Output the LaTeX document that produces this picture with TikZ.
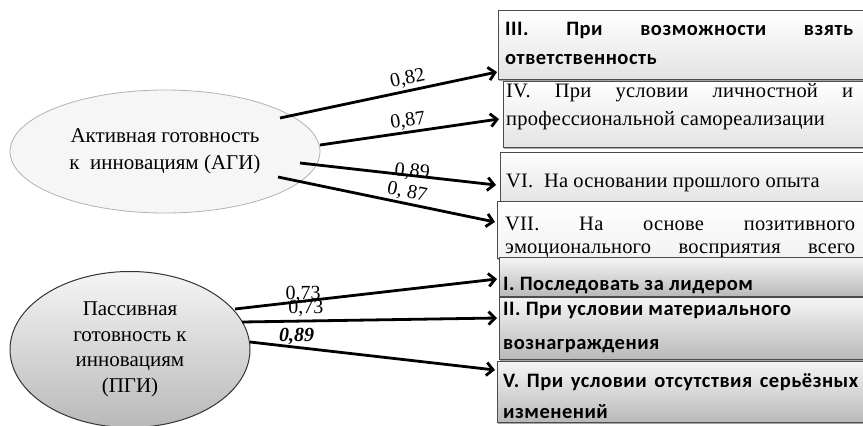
\documentclass[tikz,border=0pt]{standalone}
\usepackage{fontspec}
\setmainfont{Liberation Serif}
\newfontfamily\boxserif[LetterSpace=1]{Liberation Serif}
\newfontfamily\boxsans[LetterSpace=2.5]{Carlito}
\usetikzlibrary{arrows.meta,shapes.geometric,shadows}
\tikzset{
  conn/.style={line width=2.8pt,-{Straight Barb[length=6.5pt,width=13pt]}},
  lbl/.style={inner sep=0pt,font=\fontsize{20}{20}\selectfont},
  boxbase/.style={draw=black!70,line width=1pt,anchor=north west,inner sep=0pt,
    drop shadow={shadow xshift=0pt,shadow yshift=-1.6pt,opacity=.7}},
  lightbox/.style={boxbase,top color=white,bottom color=gray!22},
  darkbox/.style={boxbase,top color=gray!8,bottom color=gray!55},
  sline/.style={anchor=base west,inner sep=0pt,font=\boxserif\fontsize{20.5}{20.5}\selectfont},
  bline/.style={anchor=base west,inner sep=0pt,font=\boxsans\bfseries\fontsize{20.5}{20.5}\selectfont},
}
\begin{document}
\begin{tikzpicture}[x=1pt,y=-1pt]
\useasboundingbox (0,0) rectangle (863,426);
\clip (0,0) rectangle (863,426);
\fill[white] (0,0) rectangle (863,426);

% ellipses
\node[ellipse,draw=gray!60,line width=0.8pt,fill=gray!7,minimum width=310pt,minimum height=123pt,
  inner sep=0pt,align=center,font=\fontsize{21}{27}\selectfont] (agi) at (165,151.5)
  {Активная готовность\\к\ \ инновациям (АГИ)};
\node[ellipse,draw=black!80,line width=1pt,top color=gray!8,bottom color=gray!55,minimum width=240pt,
  minimum height=156pt,inner sep=0pt,align=center,font=\fontsize{21}{25.5}\selectfont] (pgi) at (130,349.5)
  {Пассивная\\готовность к\\инновациям\\(ПГИ)};

% boxes
\node[lightbox,minimum width=382pt,minimum height=69pt] (b3) at (498,10) {};
\node[bline] (t3a) at (505,35) {\makebox[348pt][s]{III.\ При возможности взять}};
\node[bline] (t3b) at (505,64) {ответственность};

\node[lightbox,minimum width=377pt,minimum height=66pt] (b4) at (503,81) {};
\node[sline] (t4a) at (506,97) {\makebox[347pt][s]{IV.\ При условии личностной и}};
\node[sline] (t4b) at (506,125) {профессиональной самореализации};

\node[lightbox,minimum width=380pt,minimum height=49pt] (b6) at (500,152) {};
\node[sline] (t6) at (506,187) {VI.\ \ На основании прошлого опыта};

\node[lightbox,bottom color=gray!10,minimum width=383pt,minimum height=57pt] (b7) at (497,201) {};
\node[sline] (t7a) at (505,230) {\makebox[350pt][s]{VII.\ На основе позитивного}};
\node[sline] (t7b) at (505,253) {\makebox[350pt][s]{эмоционального восприятия всего}};

\node[darkbox,minimum width=381pt,minimum height=39pt] (b1) at (499,257) {};
\node[bline] (t1) at (503,290) {I. Последовать за лидером};

\node[darkbox,minimum width=381pt,minimum height=62pt] (b2) at (499,297) {};
\node[bline] (t2a) at (503,315) {II. При условии материального};
\node[bline] (t2b) at (503,349) {вознаграждения};

\node[darkbox,minimum width=383pt,minimum height=61pt] (b5) at (497,361) {};
\node[bline] (t5a) at (503,387) {\makebox[355pt][s]{V. При условии отсутствия серьёзных}};
\node[bline] (t5b) at (503,418) {изменений};

% connectors
\coordinate (a1s) at (280,118); \coordinate (a1e) at (497,72);
\coordinate (a2s) at (320,145); \coordinate (a2e) at (499,119);
\coordinate (a3s) at (300,163); \coordinate (a3e) at (496,185);
\coordinate (a4s) at (278,177); \coordinate (a4e) at (495,222);
\coordinate (p1s) at (235,309); \coordinate (p1e) at (497,279);
\coordinate (p2s) at (242,322); \coordinate (p2e) at (497,318);
\coordinate (p3s) at (250,342); \coordinate (p3e) at (495,370);

\draw[conn] (a1s) -- node[lbl,sloped,pos=.6,above=2pt] (l1) {0,82} (a1e);
\draw[conn] (a2s) -- node[lbl,sloped,pos=.5,above=1.5pt] (l2) {0,87} (a2e);
\draw[conn] (a3s) -- node[lbl,sloped,pos=.57,above=-6pt] (l3) {0,89} (a3e);
\draw[conn] (a4s) -- node[lbl,sloped,pos=.585,above=1pt] (l4) {0, 87} (a4e);
\draw[conn] (p1s) -- node[lbl,pos=.26,above=-3pt] (l5) {0,73} (p1e);
\draw[conn] (p2s) -- node[lbl,pos=.25,above=3pt] (l6) {0,73} (p2e);
\draw[conn] (p3s) -- node[lbl,pos=.19,above=1.5pt,font=\bfseries\itshape\fontsize{20}{20}\selectfont] (l7) {0,89} (p3e);
\end{tikzpicture}
\end{document}
